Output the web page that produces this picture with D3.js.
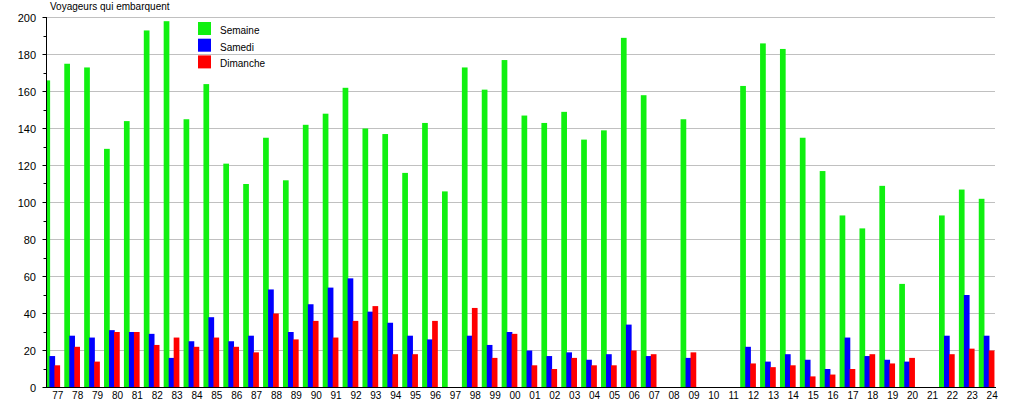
<!DOCTYPE html>
<html><head><meta charset="utf-8">
<script src="https://cdn.jsdelivr.net/npm/d3@7"></script>
<style>
html,body{margin:0;padding:0;background:#fff;}
svg{display:block;font-family:"Liberation Sans",Arial,Helvetica,sans-serif;}
</style></head>
<body>
<svg id="c" width="1015" height="400"></svg>
<script>
const years = ["77","78","79","80","81","82","83","84","85","86","87","88","89","90","91","92","93","94","95","96","97","98","99","00","01","02","03","04","05","06","07","08","09","10","11","12","13","14","15","16","17","18","19","20","21","22","23","24"];
const semaine = [166,175,173,129,144,193,198,145,164,121,110,135,112,142,148,162,140,137,116,143,106,173,161,177,147,143,149,134,139,189,158,0,145,0,0,163,186,183,135,117,93,86,109,56,0,93,107,102];
const samedi  = [17,28,27,31,30,29,16,25,38,25,28,53,30,45,54,59,41,35,28,26,0,28,23,30,20,17,19,15,18,34,17,0,16,0,0,22,14,18,15,10,27,17,15,14,0,28,50,28];
const dimanche= [12,22,14,30,30,23,27,22,27,22,19,40,26,36,27,36,44,18,18,36,0,43,16,29,12,10,16,12,12,20,18,0,19,0,0,13,11,12,6,7,10,18,13,16,0,18,21,20];
const seriesNames = ["Semaine","Samedi","Dimanche"];
const seriesColors = ["#10f010","#0000ff","#ff0000"];
const yTicks = [0,20,40,60,80,100,120,140,160,180,200];
const yMinor = [10,30,50,70,90,110,130,150,170,190];
const title = "Voyageurs qui embarquent";

const svg = d3.select("#c");
const axisX = 46.5, rightX = 995;
const x = d3.scaleBand().domain(years).range([44.4, 44.4 + 19.88*years.length]).paddingInner(0).paddingOuter(0);
const y = d3.scaleLinear().domain([0,200]).range([387.5,17.5]);

// gridlines
svg.append("g").selectAll("line").data(yTicks.filter(d=>d>0)).join("line")
  .attr("x1",axisX).attr("x2",rightX)
  .attr("y1",d=>Math.round(y(d)-0.5)+0.5).attr("y2",d=>Math.round(y(d)-0.5)+0.5)
  .attr("stroke","#c0c0c0").attr("stroke-width",1);

// clip
svg.append("clipPath").attr("id","pc").append("rect")
  .attr("x",axisX+0.5).attr("y",0).attr("width",rightX+5-axisX).attr("height",y(0));

const gBars = svg.append("g").attr("clip-path","url(#pc)");
const data = [semaine, samedi, dimanche];
const offsets = [0,5,10];
const bw = 5.7;
data.forEach((arr,k)=>{
  gBars.append("g").selectAll("rect").data(arr.map((v,i)=>({v, c:years[i]}))).join("rect")
    .attr("x",d=>x(d.c)+offsets[k])
    .attr("width",bw)
    .attr("y",d=>y(d.v))
    .attr("height",d=>y(0)-y(d.v))
    .attr("fill",seriesColors[k]);
});

// y axis
const yAxis = svg.append("g");
yAxis.append("line").attr("x1",axisX).attr("x2",axisX).attr("y1",y(200)-0.5).attr("y2",y(0)+0.5).attr("stroke","#000");
yAxis.selectAll("line.mj").data(yTicks).join("line").attr("class","mj")
  .attr("x1",axisX-4).attr("x2",axisX).attr("y1",d=>Math.round(y(d)-0.5)+0.5).attr("y2",d=>Math.round(y(d)-0.5)+0.5).attr("stroke","#000");
yAxis.selectAll("line.mn").data(yMinor).join("line").attr("class","mn")
  .attr("x1",axisX-3).attr("x2",axisX).attr("y1",d=>Math.round(y(d)-0.5)+0.5).attr("y2",d=>Math.round(y(d)-0.5)+0.5).attr("stroke","#000");
yAxis.selectAll("text").data(yTicks).join("text")
  .attr("x",36).attr("y",d=>y(d)+4).attr("text-anchor","end")
  .attr("font-size","11px").attr("fill","#000").text(d=>d);

// x axis
svg.append("line").attr("x1",axisX).attr("x2",rightX+1).attr("y1",y(0)).attr("y2",y(0)).attr("stroke","#000");
svg.append("g").selectAll("text").data(years).join("text")
  .attr("x",d=>x(d)+13.4).attr("y",398.5).attr("text-anchor","middle")
  .attr("font-size","10px").attr("fill","#000").text(d=>d);

// title
svg.append("text").attr("x",50).attr("y",10).attr("font-size","10px").attr("fill","#000").text(title);

// legend
const lg = svg.append("g");
seriesNames.forEach((n,k)=>{
  lg.append("rect").attr("x",198).attr("y",22+k*16.7).attr("width",13).attr("height",13).attr("fill",seriesColors[k]);
  lg.append("text").attr("x",220).attr("y",34+k*16.7).attr("font-size","10px").attr("fill","#000").text(n);
});
</script>
</body></html>
